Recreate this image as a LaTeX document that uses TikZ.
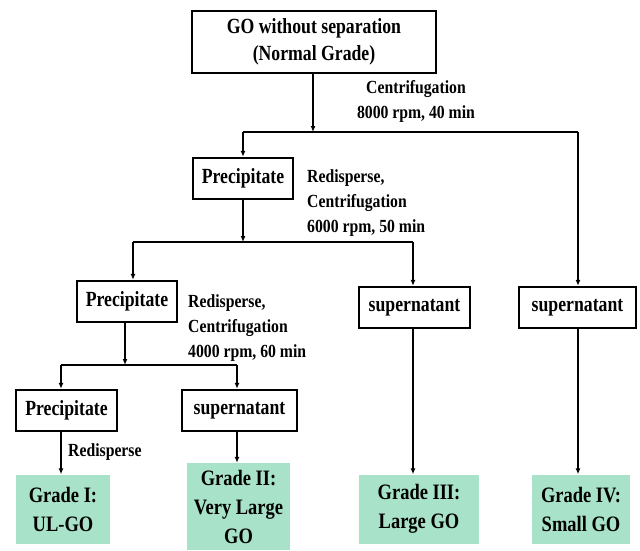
\documentclass[tikz,border=0pt]{standalone}
\usepackage{fontspec}
\setmainfont[FakeStretch=0.82]{Liberation Serif}
\newfontfamily\boxfont[FakeStretch=0.82]{Liberation Serif}
\newfontfamily\lblfont[FakeStretch=0.85]{Liberation Serif}
\newfontfamily\gradefont[FakeStretch=0.84]{Liberation Serif}
\usetikzlibrary{arrows.meta}
\definecolor{gradegreen}{RGB}{168,226,201}
\tikzset{
  box/.style={draw=black, line width=2.4pt, inner sep=0pt, minimum height=41pt,
    font=\boxfont\fontsize{21.6}{27.5}\selectfont\bfseries},
  gradebox/.style={fill=gradegreen, draw=none, inner sep=0pt, align=center,
    font=\gradefont\fontsize{22}{29}\selectfont\bfseries},
  lbl/.style={inner sep=0pt, font=\lblfont\fontsize{18.5}{25}\selectfont\bfseries},
  conn/.style={line width=1.9pt},
  arr/.style={line width=1.9pt, -{Latex[length=6pt,width=5pt]}},
}
\begin{document}
\begin{tikzpicture}[x=1pt,y=-1pt]
\useasboundingbox (0,0) rectangle (640,550);
% boxes
\node[box, minimum width=244pt, minimum height=62pt, align=center] (top) at (314,42) {GO without separation\\(Normal Grade)};
\node[box, minimum width=100pt] (p1) at (243,178.5) {Precipitate};
\node[box, minimum width=100pt] (p2) at (127,301.5) {Precipitate};
\node[box, minimum width=111pt] (s1) at (414.5,307.5) {supernatant};
\node[box, minimum width=117pt] (s2) at (577.5,307.5) {supernatant};
\node[box, minimum width=101pt] (p3) at (66.5,410.5) {Precipitate};
\node[box, minimum width=115pt] (s3) at (239.5,410.5) {supernatant};
% grade boxes
\node[gradebox, minimum width=94pt, minimum height=69pt] (g1) at (63,509) {Grade I:\\UL-GO};
\node[gradebox, minimum width=103pt, minimum height=87pt] (g2) at (238.5,506.5) {Grade II:\\Very Large\\GO};
\node[gradebox, minimum width=120pt, minimum height=69pt] (g3) at (419,509) {Grade III:\\Large GO};
\node[gradebox, minimum width=98pt, minimum height=69pt] (g4) at (581,509) {Grade IV:\\Small GO};
% labels
\node[lbl, align=center] (l1) at (416,101.5) {Centrifugation\\8000 rpm, 40 min};
\node[lbl, align=left, anchor=west] (l2) at (307,203) {Redisperse,\\Centrifugation\\6000 rpm, 50 min};
\node[lbl, align=left, anchor=west] (l3) at (188,328) {Redisperse,\\Centrifugation\\4000 rpm, 60 min};
\node[lbl, anchor=west] (l4) at (68,452) {Redisperse};
% junctions
\coordinate (j1) at (313,132);
\coordinate (j1l) at (243,132);
\coordinate (j1r) at (578,132);
\coordinate (j2) at (243,242);
\coordinate (j2l) at (133,242);
\coordinate (j2r) at (413,242);
\coordinate (j3) at (125,365);
\coordinate (j3l) at (61,365);
\coordinate (j3r) at (237,365);
% connectors
\draw[arr] (top.south -| j1) -- (j1);
\draw[conn] (j1l) -- (j1r);
\draw[arr] (j1l) -- (j1l |- p1.north);
\draw[arr] (j1r) -- (j1r |- s2.north);
\draw[arr] (p1.south -| j2) -- (j2);
\draw[conn] (j2l) -- (j2r);
\draw[arr] (j2l) -- (j2l |- p2.north);
\draw[arr] (j2r) -- (j2r |- s1.north);
\draw[arr] (p2.south -| j3) -- (j3);
\draw[conn] (j3l) -- (j3r);
\draw[arr] (j3l) -- (j3l |- p3.north);
\draw[arr] (j3r) -- (j3r |- s3.north);
\draw[arr] (p3.south -| j3l) -- (j3l |- g1.north);
\draw[arr] (s3.south -| j3r) -- (j3r |- g2.north);
\draw[arr] (s1.south -| j2r) -- (j2r |- g3.north);
\draw[arr] (s2.south -| j1r) -- (j1r |- g4.north);
\end{tikzpicture}
\end{document}
